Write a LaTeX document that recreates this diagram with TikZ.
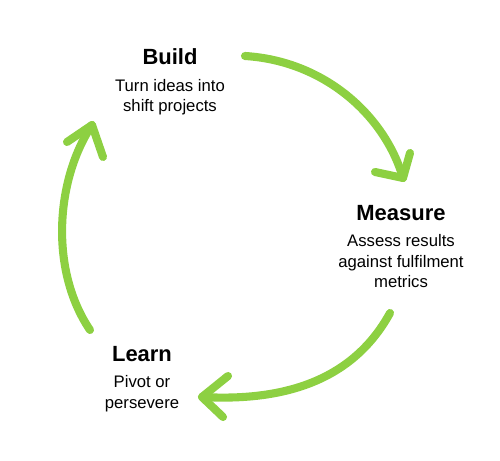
\documentclass[tikz,border=0pt]{standalone}
\usepackage{fontspec}
\setmainfont{Liberation Sans}
\usetikzlibrary{positioning}
\definecolor{leaf}{RGB}{141,208,66}

\begin{document}
\begin{tikzpicture}[
      node distance=0.2cm,
      title/.style={font=\fontsize{12.5}{14}\selectfont\bfseries, inner sep=1pt},
      desc/.style={font=\fontsize{9.5}{11.4}\selectfont, align=center, inner sep=1pt},
      stroke/.style={draw=leaf, line width=4.6pt, line cap=round, line join=round},
    ]
      \useasboundingbox (0,0) rectangle (10,9.22);

      \node[title] (B) at (3.4,8.08) {Build};
      \node[desc, below=of B] (Bt) {Turn ideas into\\shift projects};
      \node[title] (M) at (8.02,4.96) {Measure};
      \node[desc, below=of M] (Mt) {Assess results\\against fulfilment\\metrics};
      \node[title] (L) at (2.84,2.14) {Learn};
      \node[desc, below=of L] (Lt) {Pivot or\\persevere};

      % build -> measure
      \coordinate (a1) at (4.9,8.1);
      \coordinate (a2) at (8.06,5.66);
      \draw[stroke] (a1) .. controls (6.5,8.0) and (7.7,6.9) .. (a2);
      \draw[stroke] (8.2,6.16) -- (a2) -- (7.5,5.78);

      % measure -> learn
      \coordinate (b1) at (7.8,2.96);
      \coordinate (b2) at (4.04,1.28);
      \draw[stroke] (b1) .. controls (7.0,1.5) and (5.5,1.2) .. (b2);
      \draw[stroke] (4.56,1.7) -- (b2) -- (4.46,0.88);

      % learn -> build
      \coordinate (c1) at (1.8,2.62);
      \coordinate (c2) at (1.84,6.72);
      \draw[stroke] (c1) .. controls (1.0,3.8) and (1.1,5.6) .. (c2);
      \draw[stroke] (1.34,6.38) -- (c2) -- (2.06,6.08);
    \end{tikzpicture}
\end{document}
